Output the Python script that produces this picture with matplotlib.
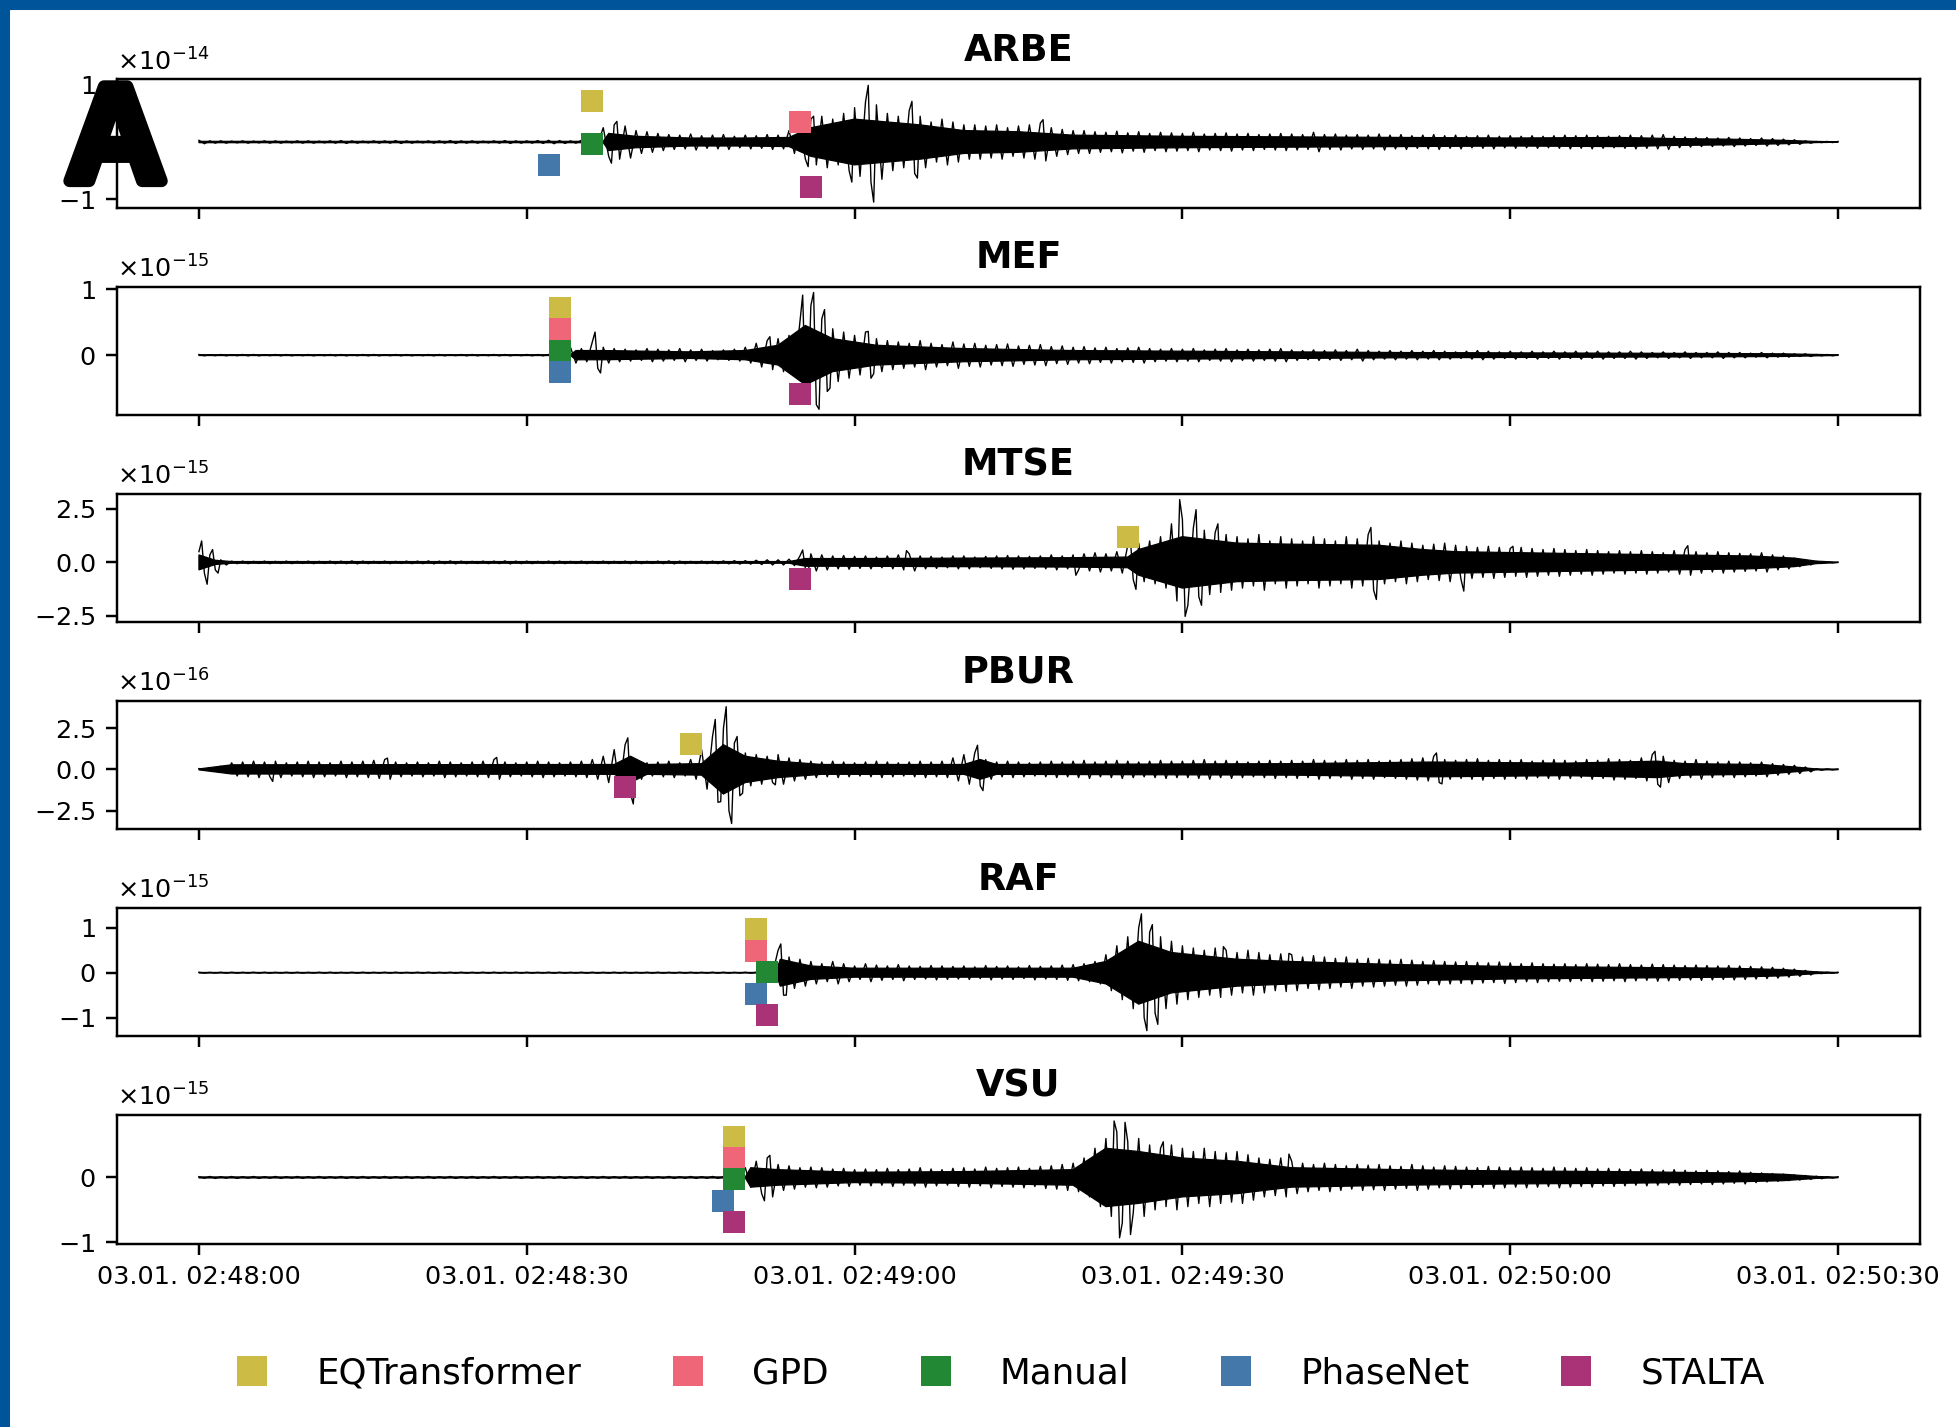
import numpy as np
import matplotlib
matplotlib.use("Agg")
import matplotlib.pyplot as plt
import matplotlib.dates as mdates
import matplotlib.patheffects as pe
from matplotlib.lines import Line2D
from matplotlib.patches import Rectangle
from matplotlib.transforms import blended_transform_factory

plt.rcParams["axes.formatter.use_mathtext"] = True

# ---------------------------------------------------------------- data
START = np.datetime64("2023-01-03T02:48:00")
stations = ["ARBE", "MEF", "MTSE", "PBUR", "RAF", "VSU"]
exponents = [-14, -15, -15, -16, -15, -15]
ytick_values = [[-1, 0, 1], [0, 1], [-2.5, 0, 2.5], [-2.5, 0, 2.5], [-1, 0, 1], [-1, 0]]

methods = ["EQTransformer", "GPD", "Manual", "PhaseNet", "STALTA"]
method_colors = ["#CCBB44", "#EE6677", "#228833", "#4477AA", "#AA3377"]

# pick times in seconds after 02:48:00 (None = no pick)
picks_ARBE = [36, 55, 36, 32, 56]
picks_MEF = [33, 33, 33, 33, 55]
picks_MTSE = [85, None, None, None, 55]
picks_PBUR = [45, None, None, None, 39]
picks_RAF = [51, 51, 52, 51, 52]
picks_VSU = [49, 49, 49, 48, 49]

# per-second peak amplitude of each trace (in units of 10**exponent)
env_ARBE = [
    0.03, 0.02, 0.02, 0.015, 0.02, 0.015, 0.02, 0.02, 0.015, 0.02,
    0.02, 0.015, 0.02, 0.025, 0.02, 0.015, 0.02, 0.02, 0.025, 0.02,
    0.015, 0.02, 0.02, 0.025, 0.02, 0.02, 0.015, 0.02, 0.025, 0.02,
    0.02, 0.025, 0.03, 0.025, 0.02, 0.03, 0.03, 0.25, 0.3, 0.28,
    0.2, 0.18, 0.15, 0.13, 0.12, 0.14, 0.11, 0.12, 0.13, 0.10,
    0.12, 0.11, 0.13, 0.12, 0.2, 0.3, 0.4, 0.45, 0.4, 0.5,
    0.6, 0.7, 0.65, 0.5, 0.45, 0.55, 0.45, 0.35, 0.4, 0.35,
    0.3, 0.3, 0.28, 0.3, 0.25, 0.28, 0.3, 0.33, 0.25, 0.22,
    0.2, 0.2, 0.18, 0.17, 0.19, 0.16, 0.18, 0.15, 0.17, 0.16,
    0.15, 0.17, 0.14, 0.15, 0.16, 0.14, 0.15, 0.13, 0.14, 0.15,
    0.14, 0.13, 0.17, 0.13, 0.14, 0.12, 0.13, 0.12, 0.14, 0.12,
    0.13, 0.11, 0.12, 0.13, 0.11, 0.12, 0.10, 0.11, 0.12, 0.10,
    0.11, 0.10, 0.11, 0.10, 0.11, 0.12, 0.11, 0.12, 0.11, 0.10,
    0.11, 0.12, 0.11, 0.12, 0.13, 0.10, 0.09, 0.08, 0.08, 0.07,
    0.08, 0.07, 0.06, 0.07, 0.06, 0.05, 0.04, 0.02, 0.01, 0.01,
    0.01,
]
env_MEF = [
    0.01, 0.008, 0.01, 0.008, 0.01, 0.01, 0.008, 0.01, 0.01, 0.008,
    0.01, 0.008, 0.01, 0.01, 0.008, 0.01, 0.01, 0.008, 0.01, 0.01,
    0.008, 0.01, 0.01, 0.008, 0.01, 0.01, 0.008, 0.01, 0.01, 0.008,
    0.01, 0.01, 0.01, 0.01, 0.12, 0.1, 0.2, 0.12, 0.1, 0.09,
    0.08, 0.1, 0.09, 0.08, 0.1, 0.08, 0.09, 0.07, 0.08, 0.09,
    0.12, 0.18, 0.22, 0.25, 0.3, 0.5, 0.75, 0.55, 0.4, 0.35,
    0.3, 0.35, 0.25, 0.22, 0.2, 0.18, 0.22, 0.18, 0.16, 0.2,
    0.17, 0.18, 0.15, 0.16, 0.17, 0.14, 0.15, 0.16, 0.13, 0.14,
    0.12, 0.13, 0.11, 0.12, 0.1, 0.11, 0.12, 0.1, 0.09, 0.1,
    0.09, 0.1, 0.08, 0.09, 0.1, 0.08, 0.09, 0.08, 0.09, 0.1,
    0.08, 0.07, 0.08, 0.07, 0.08, 0.07, 0.09, 0.07, 0.06, 0.07,
    0.06, 0.07, 0.06, 0.07, 0.06, 0.05, 0.06, 0.07, 0.06, 0.05,
    0.06, 0.05, 0.06, 0.05, 0.06, 0.05, 0.06, 0.05, 0.06, 0.05,
    0.05, 0.06, 0.05, 0.04, 0.05, 0.04, 0.05, 0.04, 0.04, 0.05,
    0.04, 0.04, 0.03, 0.04, 0.03, 0.03, 0.02, 0.02, 0.01, 0.01,
    0.005,
]
env_MTSE = [
    0.5, 0.35, 0.12, 0.06, 0.06, 0.05, 0.06, 0.05, 0.06, 0.05,
    0.06, 0.05, 0.06, 0.06, 0.07, 0.06, 0.05, 0.06, 0.05, 0.06,
    0.06, 0.07, 0.06, 0.07, 0.06, 0.05, 0.06, 0.06, 0.07, 0.06,
    0.06, 0.05, 0.06, 0.06, 0.05, 0.06, 0.05, 0.06, 0.05, 0.06,
    0.06, 0.05, 0.06, 0.07, 0.06, 0.05, 0.06, 0.06, 0.07, 0.08,
    0.08, 0.1, 0.12, 0.12, 0.15, 0.3, 0.4, 0.35, 0.3, 0.32,
    0.28, 0.3, 0.25, 0.3, 0.35, 0.4, 0.3, 0.28, 0.25, 0.3,
    0.3, 0.25, 0.28, 0.3, 0.32, 0.3, 0.28, 0.3, 0.35, 0.3,
    0.35, 0.4, 0.45, 0.4, 0.5, 0.8, 0.9, 1.0, 1.2, 1.8,
    2.0, 1.6, 1.5, 1.4, 1.3, 1.2, 1.1, 1.3, 1.0, 1.2,
    1.1, 1.0, 1.2, 1.1, 1.0, 1.2, 1.1, 1.3, 1.0, 0.9,
    1.0, 0.9, 0.8, 0.85, 0.9, 0.8, 0.75, 0.7, 0.75, 0.7,
    0.65, 0.7, 0.65, 0.6, 0.65, 0.6, 0.55, 0.6, 0.55, 0.5,
    0.55, 0.5, 0.55, 0.5, 0.45, 0.55, 0.6, 0.5, 0.45, 0.5,
    0.45, 0.42, 0.4, 0.45, 0.35, 0.3, 0.2, 0.12, 0.05, 0.02,
    0.01,
]
env_PBUR = [
    0.05, 0.1, 0.2, 0.4, 0.45, 0.5, 0.45, 0.5, 0.4, 0.45,
    0.5, 0.45, 0.4, 0.5, 0.45, 0.5, 0.55, 0.6, 0.45, 0.4,
    0.45, 0.4, 0.5, 0.45, 0.4, 0.45, 0.5, 0.6, 0.45, 0.4,
    0.45, 0.5, 0.45, 0.4, 0.45, 0.5, 0.6, 0.8, 1.2, 1.5,
    0.6, 0.4, 0.45, 0.5, 0.4, 0.6, 1.2, 2.0, 2.5, 1.6,
    1.0, 0.9, 0.8, 0.9, 0.7, 0.6, 0.5, 0.45, 0.5, 0.45,
    0.4, 0.45, 0.5, 0.45, 0.4, 0.45, 0.5, 0.45, 0.5, 0.7,
    0.9, 1.0, 0.6, 0.45, 0.5, 0.45, 0.4, 0.45, 0.5, 0.45,
    0.5, 0.55, 0.45, 0.5, 0.55, 0.5, 0.45, 0.5, 0.55, 0.5,
    0.5, 0.55, 0.6, 0.5, 0.55, 0.5, 0.45, 0.5, 0.55, 0.5,
    0.55, 0.5, 0.6, 0.55, 0.5, 0.6, 0.55, 0.6, 0.5, 0.55,
    0.6, 0.65, 0.7, 0.8, 0.6, 0.55, 0.6, 0.65, 0.55, 0.6,
    0.55, 0.6, 0.5, 0.55, 0.6, 0.55, 0.5, 0.6, 0.55, 0.65,
    0.6, 0.55, 0.7, 0.9, 0.8, 0.55, 0.5, 0.6, 0.5, 0.45,
    0.5, 0.45, 0.4, 0.45, 0.35, 0.3, 0.25, 0.15, 0.05, 0.03,
    0.02,
]
env_RAF = [
    0.01, 0.008, 0.01, 0.01, 0.008, 0.01, 0.01, 0.008, 0.01, 0.01,
    0.008, 0.01, 0.01, 0.008, 0.01, 0.01, 0.008, 0.01, 0.01, 0.008,
    0.01, 0.01, 0.008, 0.01, 0.01, 0.008, 0.01, 0.01, 0.008, 0.01,
    0.01, 0.008, 0.01, 0.01, 0.008, 0.01, 0.01, 0.008, 0.01, 0.01,
    0.008, 0.01, 0.01, 0.008, 0.01, 0.01, 0.008, 0.01, 0.01, 0.008,
    0.01, 0.01, 0.02, 0.5, 0.35, 0.3, 0.25, 0.2, 0.25, 0.2,
    0.15, 0.2, 0.17, 0.15, 0.18, 0.15, 0.14, 0.16, 0.15, 0.14,
    0.15, 0.13, 0.16, 0.14, 0.15, 0.13, 0.16, 0.14, 0.15, 0.17,
    0.18, 0.2, 0.25, 0.4, 0.6, 0.8, 1.0, 0.9, 0.8, 0.7,
    0.6, 0.55, 0.5, 0.55, 0.5, 0.45, 0.5, 0.45, 0.4, 0.42,
    0.4, 0.35, 0.38, 0.35, 0.32, 0.35, 0.3, 0.32, 0.3, 0.28,
    0.3, 0.28, 0.25, 0.27, 0.25, 0.24, 0.25, 0.23, 0.22, 0.24,
    0.22, 0.2, 0.22, 0.2, 0.19, 0.2, 0.18, 0.2, 0.19, 0.18,
    0.2, 0.18, 0.17, 0.19, 0.18, 0.17, 0.16, 0.17, 0.16, 0.15,
    0.16, 0.15, 0.14, 0.13, 0.12, 0.1, 0.08, 0.05, 0.02, 0.01,
    0.01,
]
env_VSU = [
    0.012, 0.015, 0.012, 0.015, 0.012, 0.015, 0.012, 0.015, 0.012, 0.015,
    0.012, 0.015, 0.012, 0.015, 0.012, 0.015, 0.012, 0.015, 0.012, 0.015,
    0.012, 0.015, 0.012, 0.015, 0.012, 0.015, 0.012, 0.015, 0.012, 0.015,
    0.012, 0.015, 0.012, 0.015, 0.012, 0.015, 0.012, 0.015, 0.012, 0.015,
    0.012, 0.015, 0.012, 0.015, 0.012, 0.015, 0.012, 0.015, 0.012, 0.015,
    0.15, 0.25, 0.3, 0.2, 0.18, 0.15, 0.16, 0.15, 0.13, 0.14,
    0.12, 0.13, 0.12, 0.14, 0.12, 0.13, 0.15, 0.13, 0.12, 0.14,
    0.15, 0.13, 0.16, 0.14, 0.15, 0.16, 0.14, 0.17, 0.18, 0.2,
    0.22, 0.3, 0.45, 0.6, 0.7, 0.55, 0.6, 0.5, 0.45, 0.5,
    0.45, 0.4, 0.45, 0.4, 0.38, 0.4, 0.35, 0.3, 0.28, 0.3,
    0.25, 0.22, 0.2, 0.22, 0.2, 0.18, 0.2, 0.19, 0.2, 0.18,
    0.17, 0.2, 0.18, 0.16, 0.18, 0.17, 0.16, 0.15, 0.17, 0.16,
    0.15, 0.16, 0.15, 0.14, 0.16, 0.15, 0.14, 0.15, 0.13, 0.14,
    0.13, 0.12, 0.13, 0.12, 0.11, 0.12, 0.11, 0.1, 0.11, 0.1,
    0.09, 0.1, 0.08, 0.07, 0.06, 0.05, 0.04, 0.03, 0.02, 0.01,
    0.01,
]

# half-width of the densely filled core of each trace: (seconds, amplitude)
core_ARBE = [(0, 0.012), (37, 0.012), (37.5, 0.15), (40, 0.1), (45, 0.07),
             (50, 0.07), (54, 0.08), (56, 0.25), (60, 0.4), (63, 0.35),
             (66, 0.3), (70, 0.2), (75, 0.18), (80, 0.12), (90, 0.1),
             (100, 0.09), (110, 0.08), (120, 0.07), (130, 0.08), (135, 0.06),
             (140, 0.05), (145, 0.03), (148, 0.01), (150, 0.005)]
core_MEF = [(0, 0.006), (34, 0.006), (34.5, 0.07), (37, 0.07), (45, 0.05),
            (50, 0.07), (53, 0.15), (55.5, 0.45), (58, 0.25), (62, 0.15),
            (70, 0.1), (80, 0.07), (90, 0.06), (100, 0.05), (110, 0.04),
            (120, 0.035), (130, 0.03), (140, 0.025), (145, 0.02), (150, 0.005)]
core_MTSE = [(0, 0.35), (1.5, 0.1), (3, 0.04), (54, 0.04), (55.5, 0.18),
             (60, 0.18), (70, 0.2), (80, 0.22), (85, 0.25), (86, 0.6),
             (90, 1.2), (95, 0.9), (100, 0.85), (108, 0.8), (112, 0.6),
             (115, 0.5), (125, 0.42), (135, 0.35), (142, 0.3), (146, 0.2),
             (148, 0.06), (150, 0.01)]
core_PBUR = [(0, 0.03), (3, 0.28), (38, 0.3), (39.5, 0.8), (41, 0.3),
             (46, 0.35), (48, 1.5), (50, 0.8), (53, 0.5), (57, 0.3),
             (70, 0.3), (71.5, 0.6), (73, 0.3), (100, 0.35), (113, 0.45),
             (125, 0.38), (133.5, 0.5), (136, 0.35), (143, 0.3), (146, 0.15),
             (148, 0.03), (150, 0.02)]
core_RAF = [(0, 0.006), (52.8, 0.006), (53.2, 0.3), (56, 0.15), (60, 0.1),
            (80, 0.1), (83, 0.25), (86, 0.7), (89, 0.45), (95, 0.3),
            (100, 0.25), (110, 0.18), (120, 0.14), (130, 0.12), (140, 0.1),
            (145, 0.07), (148, 0.02), (150, 0.005)]
core_VSU = [(0, 0.008), (50, 0.008), (50.5, 0.15), (53, 0.12), (60, 0.08),
            (70, 0.09), (80, 0.12), (83, 0.45), (86, 0.4), (90, 0.3),
            (95, 0.25), (100, 0.15), (110, 0.12), (120, 0.1), (130, 0.09),
            (140, 0.07), (145, 0.05), (148, 0.015), (150, 0.005)]

# individual large excursions: (seconds after start, signed amplitude)
spikes_ARBE = [(37.75, -0.37), (38.25, 0.36), (55.75, -0.43), (56.25, 0.45),
               (59.75, -0.7), (61.25, 0.99), (61.75, -1.05), (65.25, 0.71),
               (65.75, -0.63), (77.25, 0.39)]
spikes_MEF = [(36.25, 0.35), (36.75, -0.27), (52.25, 0.28), (55.25, 0.91),
              (55.75, -0.6), (56.25, 0.95), (56.75, -0.82), (57.25, 0.69),
              (57.75, -0.5), (61.25, 0.36), (61.75, -0.28)]
spikes_MTSE = [(0.25, 1.0), (0.75, -1.02), (1.25, 0.6), (1.75, -0.5),
               (55.25, 0.58), (55.75, -0.48), (64.75, 0.55), (80.25, -0.6),
               (85.25, 1.0), (85.75, -1.26), (89.75, 2.93), (90.25, -2.52),
               (91.25, 2.46), (91.75, -2.0), (93.25, 1.8), (107.25, 1.63),
               (107.75, -1.73), (115.75, -1.34), (120.25, 0.75), (136.25, 0.78)]
spikes_PBUR = [(6.75, -0.73), (17.25, 0.69), (27.25, 0.73), (39.25, 1.92),
               (39.75, -2.1), (47.25, 3.04), (47.75, -1.96), (48.25, 3.81),
               (48.75, -3.29), (49.25, 2.0), (49.75, -1.45), (52.75, -0.94),
               (71.25, 1.47), (71.75, -1.29), (113.25, 1.0), (113.75, -0.88),
               (133.25, 1.1), (133.75, -1.08)]
spikes_RAF = [(53.25, 0.64), (53.75, -0.5), (86.25, 1.31), (86.75, -1.29),
              (87.25, 1.07), (87.75, -1.15), (93.75, 0.58), (99.75, 0.43)]
spikes_VSU = [(51.75, -0.36), (52.25, 0.34), (83.75, 0.87), (84.25, -0.93),
              (84.75, 0.85), (85.25, -0.88), (88.25, 0.55), (99.75, 0.36)]

envelopes = [env_ARBE, env_MEF, env_MTSE, env_PBUR, env_RAF, env_VSU]
cores = [core_ARBE, core_MEF, core_MTSE, core_PBUR, core_RAF, core_VSU]
spike_lists = [spikes_ARBE, spikes_MEF, spikes_MTSE, spikes_PBUR, spikes_RAF, spikes_VSU]
pick_lists = [picks_ARBE, picks_MEF, picks_MTSE, picks_PBUR, picks_RAF, picks_VSU]


def to_num(seconds):
    ms = np.round(np.asarray(seconds, dtype=float) * 1000).astype("timedelta64[ms]")
    return mdates.date2num(START + ms)


def trace_points(env, spikes):
    """One swing per second: positive peak, then negative peak half a second later."""
    t, y = [], []
    n = len(env)
    for i, a in enumerate(env):
        t.append(float(i)); y.append(a)
        if i < n - 1:
            t.append(i + 0.5); y.append(-a)
    for ts, v in spikes:
        t.append(ts); y.append(v)
    order = np.argsort(t, kind="stable")
    return np.asarray(t)[order], np.asarray(y)[order]


def core_polygon(core):
    t = np.array([c[0] for c in core], dtype=float)
    a = np.array([c[1] for c in core], dtype=float)
    return np.concatenate([t, t[::-1]]), np.concatenate([a, -a[::-1]])


# ---------------------------------------------------------------- figure
DPI = 220
fig = plt.figure(figsize=(1956 / DPI, 1427 / DPI), dpi=DPI)
gs = fig.add_gridspec(len(stations), 1, left=0.0598, right=0.9816,
                      top=0.9443, bottom=0.1285, hspace=0.612)

axes = []
for k, name in enumerate(stations):
    ax = fig.add_subplot(gs[k], sharex=axes[0] if axes else None)
    axes.append(ax)
    scale = 10.0 ** exponents[k]

    ct, cy = core_polygon(cores[k])
    ax.fill(to_num(ct), cy * scale, color="black", lw=0.4, zorder=2)
    ts, ys = trace_points(envelopes[k], spike_lists[k])
    ax.plot(to_num(ts), ys * scale, color="black", lw=0.45, zorder=2)

    ax.xaxis_date()
    ax.set_yticks([v * scale for v in ytick_values[k]])
    ax.tick_params(labelsize=8.33)
    ax.yaxis.get_offset_text().set_fontsize(8.33)
    ax.set_title(name, fontsize=12, fontweight="bold")
    ax.autoscale_view()
    ax.set_autoscale_on(False)

    # pick markers, stacked vertically in axes fraction
    present = [(m, p) for m, p in enumerate(pick_lists[k]) if p is not None]
    n = len(present)
    blend = blended_transform_factory(ax.transData, ax.transAxes)
    for j, (m, p) in enumerate(present):
        yfrac = 1 - (j + 1) / (n + 1)
        ax.scatter([to_num(p)], [yfrac], marker="s", s=55,
                   color=method_colors[m], linewidths=0, transform=blend,
                   zorder=3, clip_on=False)

axes[0].xaxis.set_major_locator(mdates.SecondLocator(bysecond=[0, 30]))
axes[0].xaxis.set_major_formatter(mdates.DateFormatter("%d.%m. %H:%M:%S"))
for ax in axes[:-1]:
    ax.tick_params(labelbottom=False)

# legend
handles = [Line2D([], [], marker="s", ls="none", color=c, ms=9.6, mew=0)
           for c in method_colors]
fig.legend(handles, methods, loc="center", bbox_to_anchor=(0.5065, 0.0378),
           ncol=5, frameon=False, fontsize=11.65)

# panel letter
fig.text(66 / 1956, 1 - 181 / 1427, "A", family="Liberation Sans",
         fontweight="bold", fontsize=45, va="baseline", ha="left", zorder=10,
         path_effects=[pe.withStroke(linewidth=4, foreground="black")])

# frame bands along top and left edge
band = "#00559A"
fig.patches.append(Rectangle((0, 1 - 7.5 / 1427), 1, 7.5 / 1427,
                             transform=fig.transFigure, color=band, zorder=20))
fig.patches.append(Rectangle((0, 0), 8 / 1956, 1, transform=fig.transFigure,
                             color=band, zorder=20))

fig.savefig("out.png", dpi=DPI)
